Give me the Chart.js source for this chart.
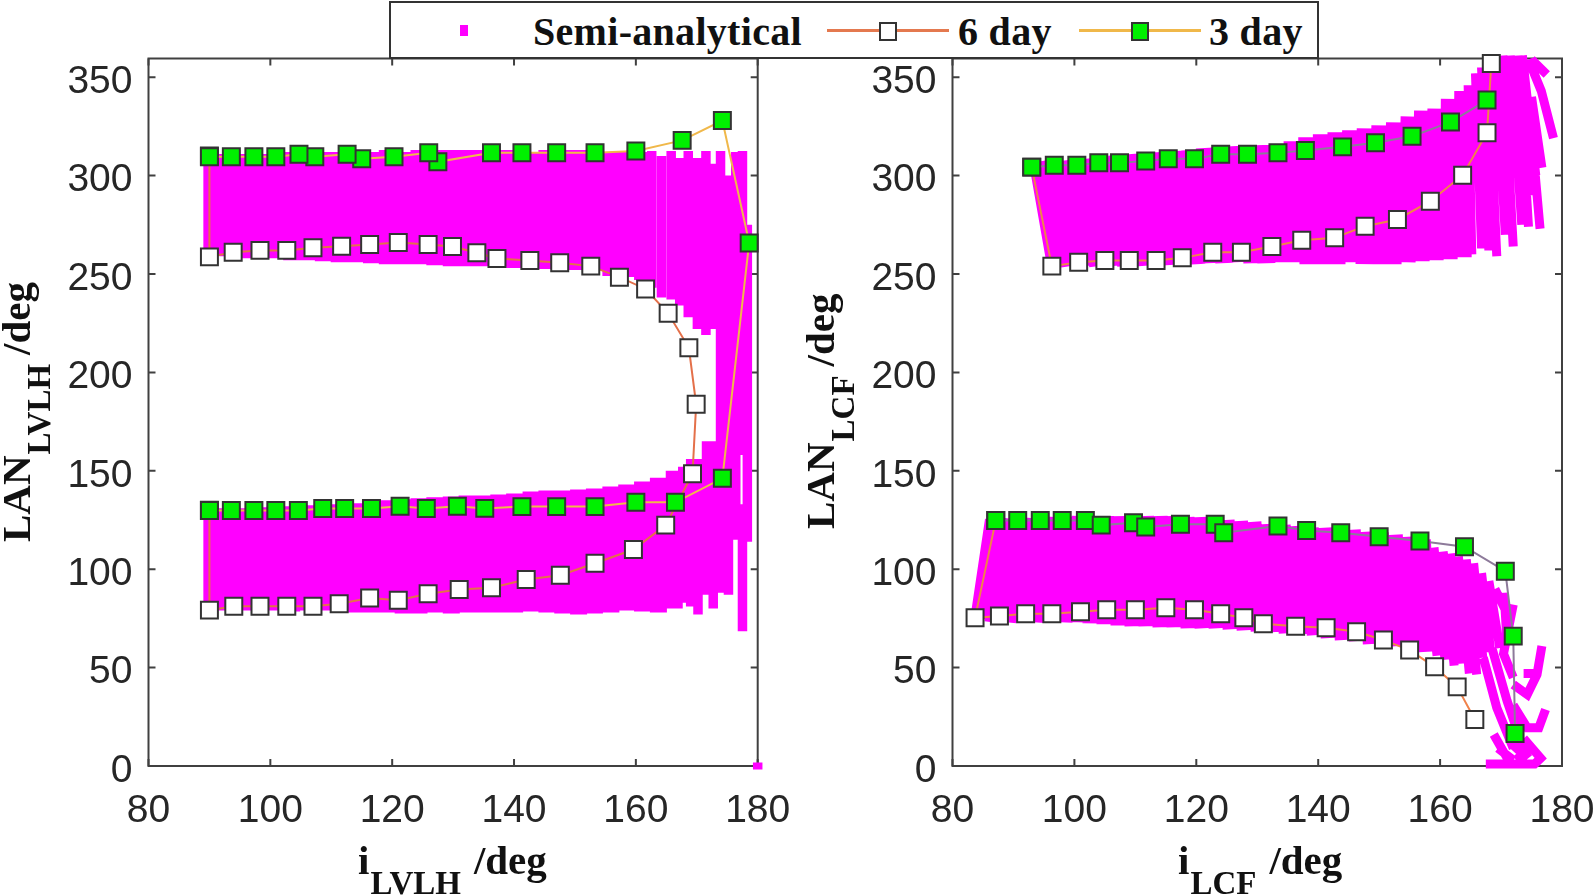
<!DOCTYPE html>
<html>
<head>
<meta charset="utf-8">
<script src="https://cdn.jsdelivr.net/npm/chart.js@4"></script>
<style>
    html, body { margin: 0; padding: 0; background: #fff; overflow: hidden; }
    body { width: 1594px; height: 896px; position: relative; }
    canvas { position: absolute; top: 0; }
    .title { position: absolute; font: bold 41px/40px "Liberation Serif", serif; color: #111; white-space: nowrap; }
    .title span { font-size: 33px; position: relative; top: 20px; margin: 0 13px 0 1px; }
    .rot { transform: rotate(-90deg); transform-origin: 0 0; }
    .rot span { margin-right: 9px; }
    #legend { position: absolute; left: 389px; top: 1px; width: 926px; height: 54px; border: 2px solid #333; background: #fff; z-index: 5; }
    #legend div { position: absolute; }
    .ltext { font: bold 40px/40px "Liberation Serif", serif; color: #111; top: 9px; white-space: nowrap; letter-spacing: 0.3px; }
    .lline { height: 3px; top: 26px; }
    .lmark { width: 14px; height: 15px; top: 19px; border: 2px solid #333; }
</style>
</head>
<body>
<canvas id="leftChart"></canvas>
<canvas id="rightChart"></canvas>

<div class="title rot" style="left:-4px;top:542px">LAN<span>LVLH</span>/deg</div>
<div class="title" style="left:358px;top:840px">i<span>LVLH</span>/deg</div>
<div class="title rot" style="left:800px;top:529px">LAN<span>LCF</span>/deg</div>
<div class="title" style="left:1178px;top:840px">i<span>LCF</span>/deg</div>

<div id="legend">
    <div style="left:69px;top:22px;width:8px;height:11px;background:#ff00ff"></div>
    <div class="ltext" style="left:142px">Semi-analytical</div>
    <div class="lline" style="left:436px;width:122px;background:#e4794f"></div>
    <div class="lmark" style="left:488px;background:#fff"></div>
    <div class="ltext" style="left:567px">6 day</div>
    <div class="lline" style="left:688px;width:122px;background:#f0b84a"></div>
    <div class="lmark" style="left:740px;background:#00f000"></div>
    <div class="ltext" style="left:818px">3 day</div>
</div>

<script>
const xTicks = [80, 100, 120, 140, 160, 180];
const yTicks = [0, 50, 100, 150, 200, 250, 300, 350];

// left plot, 6 day and 3 day transfer points
const left6X = [90, 90, 94, 98.3, 102.7, 107, 111.3, 116.3, 121, 125.9, 131, 136.3, 142, 147.6, 153.3, 159.6, 164.9, 169.3, 169.9, 168.7, 165.3, 161.6, 157.3, 152.6, 147.5, 142.6, 137.2, 133.9, 129.9, 125.9, 121, 116.3, 111.7, 107, 102.7, 98.3, 93.9, 90, 90];
const left6Y = [130, 79.2, 81.2, 81.2, 81.2, 81.2, 82.4, 85.4, 84.2, 87.5, 89.7, 90.6, 94.8, 96.9, 103, 110, 122.4, 148.5, 183.8, 212.5, 230, 242.4, 248.4, 254, 255.7, 256.9, 257.9, 260.8, 264, 265, 266, 265, 264.1, 263.3, 262, 262, 261, 258.7, 310];
const left3X = [90, 93.6, 97.3, 100.9, 104.6, 108.6, 112.2, 116.6, 121.3, 125.6, 130.7, 135.2, 141.3, 147, 153.3, 160, 166.5, 174.2, 178.6, 174.2, 167.6, 160, 153.3, 147, 141.3, 136.3, 127.5, 126, 120.3, 115, 112.6, 107.3, 104.7, 100.9, 97.3, 93.6, 90];
const left3Y = [129.8, 129.8, 129.8, 129.8, 129.8, 130.8, 130.8, 130.8, 132, 130.8, 132, 130.9, 131.8, 131.8, 131.8, 134, 134, 146.2, 265.8, 328, 317.9, 312.5, 311.6, 311.6, 311.6, 311.6, 307, 311.6, 309.6, 308.6, 310.8, 309.6, 310.8, 309.6, 309.6, 309.6, 309.6];

// left plot, semi-analytical cloud read as columns
const leftBodyX = [90.4, 93, 95.6, 98.2, 100.8, 103.5, 106.1, 108.7, 111.3, 113.9, 116.6, 119.2, 121.8, 124.4, 127, 129.7, 132.3, 134.9, 137.5, 140.1, 142.8, 145.4, 148, 150.6, 153.2, 155.9, 158.5, 161.1, 163.7, 166.3];
const leftUpperLow = [260, 259, 258, 258, 258, 257, 257, 256.5, 256, 256, 255.5, 255, 255, 255, 254.5, 254, 254, 254, 254, 253, 252.5, 252.5, 252, 252, 252, 249, 248.5, 247, null, null];
const leftUpperHigh = [311, 311, 311, 311, 311, 312, 312, 312, 312, 313, 312, 313, 312, 313, 313, 313, 313, 313, 313, 313, 312, 313, 313, 313, 313, 312, 312, 312, null, null];
const leftLowerLow = [79, 79, 79, 78.5, 79, 78.5, 79, 79, 78.5, 78, 78, 78, 77.5, 77.5, 78, 77.5, 78, 78, 78, 78, 78.5, 78, 77.5, 77, 77.5, 78, 79, 78.5, 78, 80];
const leftLowerHigh = [131, 131, 131, 131.5, 132, 132, 132.5, 133, 133, 133.5, 134.5, 135, 135.5, 136, 136.5, 137, 137.5, 137.5, 138, 138.5, 139.5, 140, 140, 140.5, 141, 142, 143, 144.5, 146.5, 150];
const leftTeethX = [162.6, 164.2, 165.8, 167.2, 168.6, 170.1, 171.5, 172.9, 167.7, 169, 170.2, 171.6, 172.7, 173.9, 175.2, 176.4, 177.5, 177.5, 178.3, 180];
const leftTeethLow = [243, 238, 237, 234, 228, 222, 219, 222, 83, 81, 77, 87, 80, 88, 87, 115, 158, 68.5, 114, -1.8];
const leftTeethHigh = [312.5, 310, 312.5, 309, 312.5, 309, 312.5, 306, 152, 156, 156, 165, 165, 312.5, 300, 312, 312.5, 133, 275, 1.8];

// right plot, 6 day and 3 day transfer points
const right6X = [87.1, 83.7, 87.7, 92, 96.3, 101, 105.3, 110, 115, 119.7, 124, 127.8, 131, 136.3, 141.3, 146.3, 150.7, 155, 159.1, 162.8, 165.7, null, 93, 96.3, 100.7, 105, 109, 113.4, 117.7, 122.7, 127.4, 132.4, 137.3, 142.7, 147.7, 153, 158.4, 163.7, 167.7, 168.4];
const right6Y = [124.8, 75.3, 76.2, 77.4, 77.4, 78.4, 79.4, 79.4, 80.4, 79.4, 77.4, 75.3, 72.3, 71, 70.2, 68.2, 64, 58.9, 50.4, 40.2, 23.6, null, 304.3, 254, 256, 256.9, 256.9, 256.9, 258.2, 261, 261, 264, 267.2, 268.4, 274.3, 277.7, 287, 300.2, 321.8, 357];
const right3X = [87.1, 90.7, 94.4, 98, 101.8, 104.4, 109.7, 111.7, 117.4, 123.1, 124.5, 133.4, 138.1, 143.7, 150, 156.7, 164, 170.7, 172, 172.3, null, 93, 96.7, 100.4, 104, 107.4, 111.7, 115.4, 119.7, 124, 128.4, 133.4, 137.9, 144, 149.4, 155.4, 161.7, 167.7];
const right3Y = [124.8, 124.8, 124.8, 124.8, 124.8, 122.4, 123.6, 121.4, 122.8, 122.8, 118.5, 122, 119.7, 118.5, 116.5, 114.3, 111.4, 99, 66, 16.5, null, 304.3, 305.3, 305.3, 306.5, 306.5, 307.4, 308.6, 308.6, 310.8, 310.8, 311.6, 312.8, 314.6, 316.7, 320, 327.2, 338.4];

// right plot, semi-analytical cloud read as slanted strands
const rightUpperBotX = [97, 99.3, 101.6, 103.9, 106.2, 108.5, 110.8, 113.1, 115.4, 117.7, 120, 122.3, 124.6, 126.9, 129.2, 131.5, 133.8, 136.1, 138.4, 140.7, 143, 145.3, 147.6, 149.9, 152.2, 154.5, 156.8, 159.1, 161.4, 163.7];
const rightUpperBotY = [254, 254, 254, 254, 254, 254, 254, 254.5, 254.5, 255, 255, 255.5, 255.5, 256, 255.5, 255.5, 256, 256, 255, 255, 255, 256, 255, 255, 255, 256, 256.5, 257, 257.5, 258.5];
const rightUpperTopX = [94, 96.6, 99.2, 101.8, 104.4, 107, 109.4, 111.8, 114.2, 116.6, 119, 121.4, 123.8, 126.2, 128.6, 131, 133.4, 135.8, 138.2, 140.6, 143, 145.4, 147.8, 150.2, 152.6, 155, 157.2, 159.4, 161.6, 163.8];
const rightUpperTopY = [307, 308, 308, 308.5, 309, 310.5, 311, 311.5, 312, 312.5, 313, 314, 314.5, 315, 315, 315.5, 316, 317.5, 319.5, 321, 322, 323, 324, 325.5, 327, 330, 333, 334, 339, 343];
const rightLowerBotX = [84.4, 86.7, 89, 91.3, 93.6, 95.9, 98.2, 100.5, 102.8, 105.1, 107.4, 109.7, 112, 114.3, 116.6, 118.9, 121.2, 123.5, 125.8, 128.1, 130.4, 132.7, 135, 137.3, 139.6, 141.9, 144.2, 146.5, 148.8, 151.1, 153.4, 155.7, 158];
const rightLowerBotY = [75, 73, 73, 73, 73, 73, 73, 73, 72.5, 72, 71.5, 71, 71, 70.5, 70.5, 70, 70, 70, 69.5, 69, 68.5, 68, 67.5, 67, 66.5, 65, 64, 63.5, 62, 62, 61, 60, 58];
const rightLowerTopX = [86.8, 88.8, 90.8, 92.8, 94.8, 96.8, 99, 101, 103, 105, 107.2, 109.4, 111.6, 113.8, 116, 118.2, 120.4, 122.6, 124.8, 127, 129.2, 131.6, 134, 136.3, 138.6, 140.9, 143.2, 145.5, 147.8, 150.1, 152.4, 154.7, 157];
const rightLowerTopY = [125, 126, 126, 126, 126.5, 126.5, 126.5, 127, 127, 127, 127, 127, 127, 127, 127, 126.5, 126.5, 125.5, 125, 124.5, 124, 123, 122.5, 122, 121, 121, 120.5, 120, 119, 118.5, 117.5, 116.5, 115];
// thin strands as x,y,x,y... lists
const rightThinUpper = [
    [165.2, 260, 164.6, 346], [166.8, 263, 165.8, 352], [168, 262, 166.8, 355], [169.3, 259, 167.8, 359],
    [170.7, 270, 169, 361], [172, 264, 170.3, 361], [173.4, 275, 171.5, 361], [174.5, 274, 172.8, 361],
    [175.7, 300, 173.5, 361], [176.4, 273, 174.6, 335], [176.7, 304, 175, 340], [175, 290, 173, 350],
    [178.6, 319, 176.6, 343, 174.5, 359], [177.5, 351.4, 175, 359]
];
const rightThinLower = [
    [159.5, 56, 157.5, 113], [160.8, 54, 159, 111], [162.3, 51, 160.5, 109], [163.5, 52, 161.7, 108],
    [164.8, 47, 163, 106.5], [166, 46.5, 164.3, 105], [167, 55, 165.5, 103], [168.3, 58, 166.8, 98],
    [169.8, 60, 168, 94], [170.6, 80, 169, 90], [171, 62, 170.5, 88], [172, 82, 170.4, 57, 172, 45],
    [167.1, 55, 169.3, 29.6, 172, 9], [168.5, 60, 171, 33, 173, 15],
    [176.7, 61, 175.9, 46.5, 174.3, 36.3, 172, 41.4], [173.7, 47, 175.4, 47],
    [177.3, 28.7, 176.2, 19.4, 174.3, 19.4, 172, 31],
    [167.5, 1, 175.5, 1, 176.5, 4, 173.7, 14], [168.8, 16, 171, 4], [171.5, 12, 174, 5],
    [169.5, 9, 172, 3], [174.5, 9, 172.5, 3], [172.5, 12, 174.5, 4]
];

function pairPoints(xs, ys) {
    return xs.map((x, i) => ({ x: x, y: ys[i] }));
}

function columnPoints(xs, lows, highs) {
    const pts = [];
    xs.forEach((x, i) => {
        if (lows[i] === null) return;
        pts.push({ x: x, y: lows[i] }, { x: x, y: highs[i] }, { x: x, y: null });
    });
    return pts;
}

function strandPoints(botX, botY, topX, topY) {
    const pts = [];
    botX.forEach((x, i) => {
        pts.push({ x: x, y: botY[i] }, { x: topX[i], y: topY[i] }, { x: x, y: null });
    });
    return pts;
}

function polyPoints(strands) {
    const pts = [];
    strands.forEach(s => {
        for (let i = 0; i < s.length; i += 2) pts.push({ x: s[i], y: s[i + 1] });
        pts.push({ x: s[0], y: null });
    });
    return pts;
}

function cloudSet(points, width) {
    return {
        data: points,
        showLine: true,
        borderColor: '#ff00ff',
        borderWidth: width,
        borderCapStyle: 'butt',
        pointRadius: 0,
        clip: false,
        order: 5
    };
}

function markerSet(points, lineColor, fill, order) {
    return {
        data: points,
        showLine: true,
        borderColor: lineColor,
        borderWidth: 2,
        pointStyle: 'rect',
        pointRadius: 12,
        pointBorderWidth: 2,
        pointBorderColor: '#333',
        pointBackgroundColor: fill,
        clip: false,
        order: order
    };
}

// axes box with inward ticks on all four sides
const boxPlugin = {
    id: 'box',
    beforeDatasetsDraw(chart) {
        const { ctx, chartArea: a, scales } = chart;
        ctx.save();
        ctx.strokeStyle = '#404040';
        ctx.lineWidth = 2;
        ctx.strokeRect(a.left, a.top, a.right - a.left, a.bottom - a.top);
        ctx.beginPath();
        xTicks.forEach(v => {
            const px = scales.x.getPixelForValue(v);
            ctx.moveTo(px, a.bottom); ctx.lineTo(px, a.bottom - 7);
            ctx.moveTo(px, a.top); ctx.lineTo(px, a.top + 7);
        });
        yTicks.forEach(v => {
            const py = scales.y.getPixelForValue(v);
            ctx.moveTo(a.left, py); ctx.lineTo(a.left + 7, py);
            ctx.moveTo(a.right, py); ctx.lineTo(a.right - 7, py);
        });
        ctx.stroke();
        ctx.restore();
    }
};

function makeChart(id, left, width, yWidth, padRight, datasets) {
    const canvas = document.getElementById(id);
    canvas.style.left = left + 'px';
    canvas.style.width = width + 'px';
    canvas.style.height = '896px';
    canvas.width = width;
    canvas.height = 896;
    const tickFont = { family: '"Liberation Sans", Arial, sans-serif', size: 39 };
    return new Chart(canvas.getContext('2d'), {
        type: 'scatter',
        data: { datasets: datasets },
        plugins: [boxPlugin],
        options: {
            responsive: false,
            animation: false,
            layout: { padding: { top: 58.5, right: padRight, bottom: 0, left: 0 } },
            plugins: { legend: { display: false }, tooltip: { enabled: false } },
            scales: {
                x: {
                    min: 80, max: 180,
                    afterFit: s => { s.height = 130; s.paddingLeft = 0; s.paddingRight = 0; },
                    grid: { display: false, drawTicks: false },
                    border: { display: false },
                    ticks: { stepSize: 20, autoSkip: false, maxRotation: 0, padding: 22, color: '#262626', font: tickFont }
                },
                y: {
                    min: 0, max: 359.5,
                    afterFit: s => { s.width = yWidth; s.paddingTop = 0; s.paddingBottom = 0; },
                    grid: { display: false, drawTicks: false },
                    border: { display: false },
                    ticks: { stepSize: 50, includeBounds: false, autoSkip: false, padding: 16, labelOffset: 5, color: '#262626', font: tickFont }
                }
            }
        }
    });
}

makeChart('leftChart', 0, 800, 148.5, 42.3, [
    markerSet(pairPoints(left3X, left3Y), '#f0b84a', '#00f000', 1),
    markerSet(pairPoints(left6X, left6Y), '#e4704a', '#fff', 2),
    cloudSet(columnPoints(leftBodyX, leftUpperLow, leftUpperHigh), 17),
    cloudSet(columnPoints(leftBodyX, leftLowerLow, leftLowerHigh), 17),
    cloudSet(columnPoints(leftTeethX, leftTeethLow, leftTeethHigh), 9.5)
]);

makeChart('rightChart', 800, 794, 152.5, 32, [
    markerSet(pairPoints(right3X, right3Y), '#8d7a9a', '#00f000', 1),
    markerSet(pairPoints(right6X, right6Y), '#f0824a', '#fff', 2),
    cloudSet(strandPoints(rightUpperBotX, rightUpperBotY, rightUpperTopX, rightUpperTopY), 18),
    cloudSet(strandPoints(rightLowerBotX, rightLowerBotY, rightLowerTopX, rightLowerTopY), 18),
    cloudSet(polyPoints(rightThinUpper), 9),
    cloudSet(polyPoints(rightThinLower), 9)
]);
</script>
</body>
</html>
